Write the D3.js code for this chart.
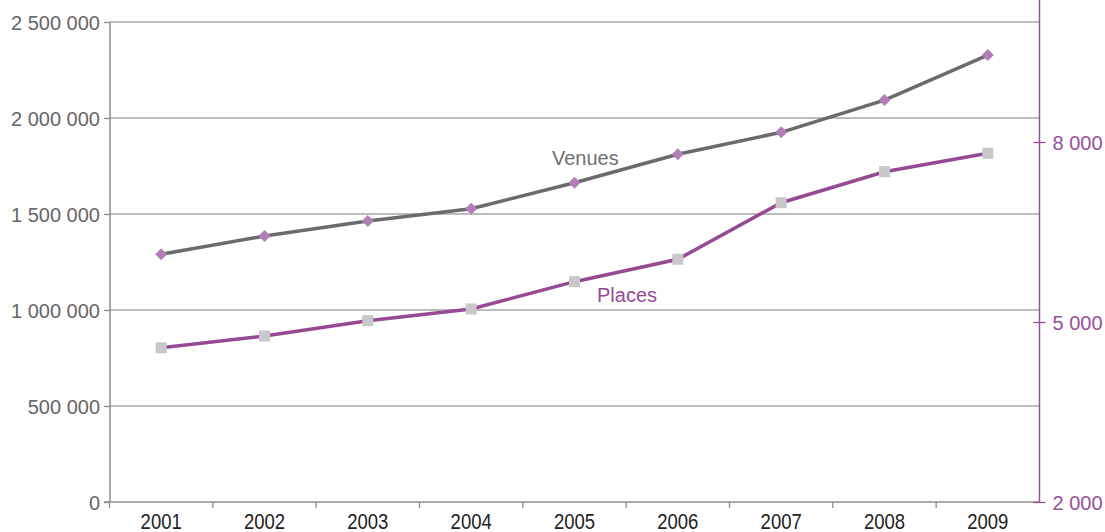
<!DOCTYPE html>
<html>
<head>
<meta charset="utf-8">
<script src="https://cdn.jsdelivr.net/npm/d3@7"></script>
<style>
  html, body { margin: 0; padding: 0; background: #fff; }
  svg { display: block; font-family: "Liberation Sans", Arial, sans-serif; }
</style>
</head>
<body>
<svg id="chart" width="1105" height="532"></svg>
<script>
const years = ["2001","2002","2003","2004","2005","2006","2007","2008","2009"];
const venues = [1290000, 1385000, 1463500, 1527500, 1663000, 1811000, 1925500, 2093500, 2328000];
const places = [4570, 4767, 5022, 5217, 5672, 6045, 6988, 7505, 7812];
const leftTicks = [0, 500000, 1000000, 1500000, 2000000, 2500000];
const rightTicks = [2000, 5000, 8000];

(function () {
const svg = d3.select("#chart");
const fmt = d3.formatLocale({decimal: ",", thousands: " ", grouping: [3], currency: ["", ""]}).format(",d");

const pl = 110, pr = 1039.5, pt = 22, pb = 502;

const x = d3.scaleBand().domain(years).range([pl - 0.5, pr]).padding(0);
const yL = d3.scaleLinear().domain([0, 2500000]).range([pb, pt]);
const yR = d3.scaleLinear().domain([2000, 10000]).range([pb, pt]);

// gridlines
svg.append("g").selectAll("line").data(leftTicks.filter(d => d > 0)).join("line")
  .attr("x1", pl).attr("x2", pr)
  .attr("y1", d => yL(d)).attr("y2", d => yL(d))
  .attr("stroke", "#a6a6a6").attr("stroke-width", 1.3);

// left axis
const gL = svg.append("g").attr("transform", `translate(${pl},0)`)
  .call(d3.axisLeft(yL).tickValues(leftTicks).tickFormat(fmt).tickSize(6).tickPadding(4));
gL.select(".domain").attr("stroke", "#8c8c8c").attr("stroke-width", 1.5).attr("d", `M0,${pt}V${pb}`);
gL.selectAll(".tick line").attr("stroke", "#8c8c8c").attr("stroke-width", 1.3);
gL.selectAll(".tick text").attr("fill", "#666").style("font-size", "20px").attr("dy", "0.35em");

// bottom axis
const gB = svg.append("g").attr("transform", `translate(0,${pb})`)
  .call(d3.axisBottom(x).tickSize(0).tickPadding(0));
gB.select(".domain").attr("stroke", "#8c8c8c").attr("stroke-width", 1.5).attr("d", `M${pl-6},0H${pr}`);
gB.selectAll(".tick text").attr("fill", "#222").style("font-size", "18.5px")
  .attr("y", 0).attr("dy", 0)
  .attr("transform", "translate(0,26.5) scale(1,1.16)");
svg.append("g").selectAll("line").data(years).join("line")
  .attr("x1", d => x(d)).attr("x2", d => x(d))
  .attr("y1", pb).attr("y2", pb + 6)
  .attr("stroke", "#8c8c8c").attr("stroke-width", 1.3);

// right axis
const gR = svg.append("g").attr("transform", `translate(${pr},0)`)
  .call(d3.axisRight(yR).tickValues(rightTicks).tickFormat(fmt).tickSize(6).tickPadding(7));
gR.select(".domain").attr("stroke", "#96509a").attr("stroke-width", 1.5).attr("d", `M0,0V${pb}`);
gR.selectAll(".tick line").attr("stroke", "#96509a").attr("stroke-width", 1.3).attr("x1", -6);
gR.selectAll(".tick text").attr("fill", "#96509a").style("font-size", "20px").attr("dy", "0.35em");

const cx = d => x(d) + x.bandwidth() / 2;

// lines
svg.append("path")
  .datum(years.map((d, i) => [cx(d), yL(venues[i])]))
  .attr("d", d3.line())
  .attr("fill", "none").attr("stroke", "#6b6b6d").attr("stroke-width", 3.5);
svg.append("path")
  .datum(years.map((d, i) => [cx(d), yR(places[i])]))
  .attr("d", d3.line())
  .attr("fill", "none").attr("stroke", "#954a93").attr("stroke-width", 3.5);

// markers
svg.append("g").selectAll("path").data(years).join("path")
  .attr("transform", (d, i) => `translate(${cx(d)},${yL(venues[i])})`)
  .attr("d", "M0,-6L6,0L0,6L-6,0Z")
  .attr("fill", "#b37dba");
svg.append("g").selectAll("rect").data(years).join("rect")
  .attr("x", d => cx(d) - 5.5).attr("y", (d, i) => yR(places[i]) - 5.5)
  .attr("width", 11).attr("height", 11)
  .attr("fill", "#c8c8ca");

// labels
svg.append("text").attr("x", 552).attr("y", 165).text("Venues")
  .attr("fill", "#6f6f6f").style("font-size", "20px");
svg.append("text").attr("x", 597).attr("y", 302).text("Places")
  .attr("fill", "#954a93").style("font-size", "20px");
})();
</script>
</body>
</html>
